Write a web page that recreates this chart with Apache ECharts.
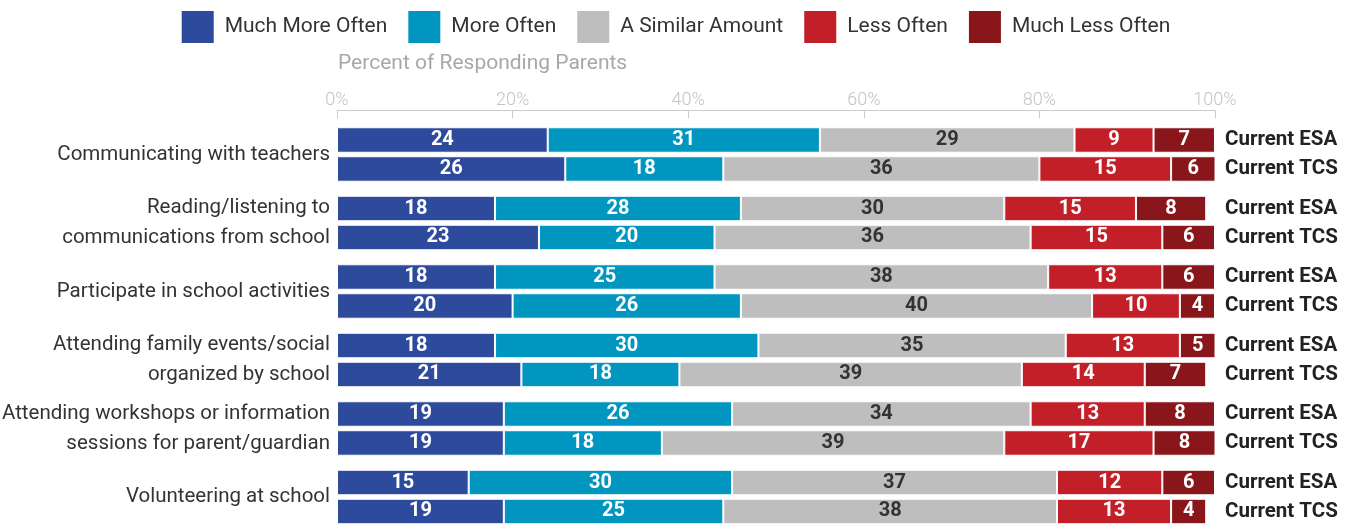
<!DOCTYPE html>
<html>
<head>
<meta charset="utf-8">
<script src="https://cdn.jsdelivr.net/npm/echarts@6/dist/echarts.min.js"></script>
<style>
  html, body { margin: 0; padding: 0; background: #fff; }
  #chart { width: 1352px; height: 527px; }
</style>
</head>
<body>
<div id="chart"></div>
<script>
// Survey categories (top to bottom)
const categories = [
  'Communicating with teachers',
  'Reading/listening to\ncommunications from school',
  'Participate in school activities',
  'Attending family events/social\norganized by school',
  'Attending workshops or information\nsessions for parent/guardian',
  'Volunteering at school'
];

// Response levels
const responses = ['Much More Often', 'More Often', 'A Similar Amount', 'Less Often', 'Much Less Often'];
const groups = ['Current ESA', 'Current TCS'];

// Percent of responding parents, per response level, per category
const muchMoreESA = [24, 18, 18, 18, 19, 15];
const muchMoreTCS = [26, 23, 20, 21, 19, 19];
const moreESA     = [31, 28, 25, 30, 26, 30];
const moreTCS     = [18, 20, 26, 18, 18, 25];
const similarESA  = [29, 30, 38, 35, 34, 37];
const similarTCS  = [36, 36, 40, 39, 39, 38];
const lessESA     = [9, 15, 13, 13, 13, 12];
const lessTCS     = [15, 15, 10, 14, 17, 13];
const muchLessESA = [7, 8, 6, 5, 8, 6];
const muchLessTCS = [6, 6, 4, 7, 8, 4];

const percentTicks = ['0%', '20%', '40%', '60%', '80%', '100%'];

const colors = ['#2e4a9d', '#0096c0', '#bebebe', '#c21f28', '#89161a'];
const labelColors = ['#fff', '#fff', '#333', '#fff', '#fff'];

const esaValues = [muchMoreESA, moreESA, similarESA, lessESA, muchLessESA];
const tcsValues = [muchMoreTCS, moreTCS, similarTCS, lessTCS, muchLessTCS];

const FONT = 'Roboto, "Liberation Sans", sans-serif';

const series = [];
responses.forEach((name, i) => {
  [['ESA', esaValues[i]], ['TCS', tcsValues[i]]].forEach(([stack, values]) => {
    series.push({
      name: name,
      type: 'bar',
      stack: stack,
      data: values,
      barWidth: 25.5,
      barGap: '13.7%',
      itemStyle: { color: colors[i], borderColor: '#fff', borderWidth: 1 },
      label: {
        show: true,
        position: 'inside',
        color: labelColors[i],
        fontFamily: FONT,
        fontWeight: 'bold',
        fontSize: 20
      },
      emphasis: { disabled: true }
    });
  });
});

const chart = echarts.init(document.getElementById('chart'), null, { renderer: 'canvas' });
chart.setOption({
  animation: false,
  color: colors,
  title: {
    text: 'Percent of Responding Parents',
    left: 338,
    top: 53,
    padding: 0,
    textStyle: { color: '#a8a8a8', fontSize: 21, fontWeight: 'normal', fontFamily: FONT }
  },
  legend: {
    data: responses,
    top: 6,
    left: 'center',
    itemWidth: 32,
    itemHeight: 32,
    itemGap: 21,
    icon: 'rect',
    itemStyle: { borderWidth: 0 },
    textStyle: { fontSize: 21, color: '#333', fontFamily: FONT, padding: [0, 0, 0, 6] }
  },
  grid: { left: 337, right: 137, top: 120.25, height: 411, outerBoundsMode: 'none', containLabel: false },
  xAxis: {
    type: 'value',
    position: 'top',
    offset: 10,
    min: 0,
    max: 100,
    interval: 20,
    axisLine: { show: true, lineStyle: { color: '#cccccc', width: 1 } },
    axisTick: { show: true, inside: true, length: 8, lineStyle: { color: '#cccccc' } },
    splitLine: { show: false },
    axisLabel: {
      margin: 1,
      color: '#c4c4c4',
      fontSize: 18,
      fontWeight: 300,
      fontFamily: FONT,
      formatter: (v) => percentTicks[v / 20]
    }
  },
  yAxis: [
    {
      type: 'category',
      data: categories,
      inverse: true,
      axisLine: { show: false },
      axisTick: { show: false },
      axisLabel: {
        margin: 7,
        color: '#333',
        fontSize: 20.5,
        lineHeight: 30,
        fontFamily: FONT,
        align: 'right'
      }
    },
    {
      type: 'category',
      data: categories,
      inverse: true,
      position: 'right',
      axisLine: { show: false },
      axisTick: { show: false },
      axisLabel: {
        margin: 10,
        color: '#222',
        fontSize: 20.5,
        lineHeight: 29,
        fontWeight: 'bold',
        fontFamily: FONT,
        align: 'left',
        formatter: () => groups.join('\n')
      }
    }
  ],
  series: series
});
</script>
</body>
</html>
